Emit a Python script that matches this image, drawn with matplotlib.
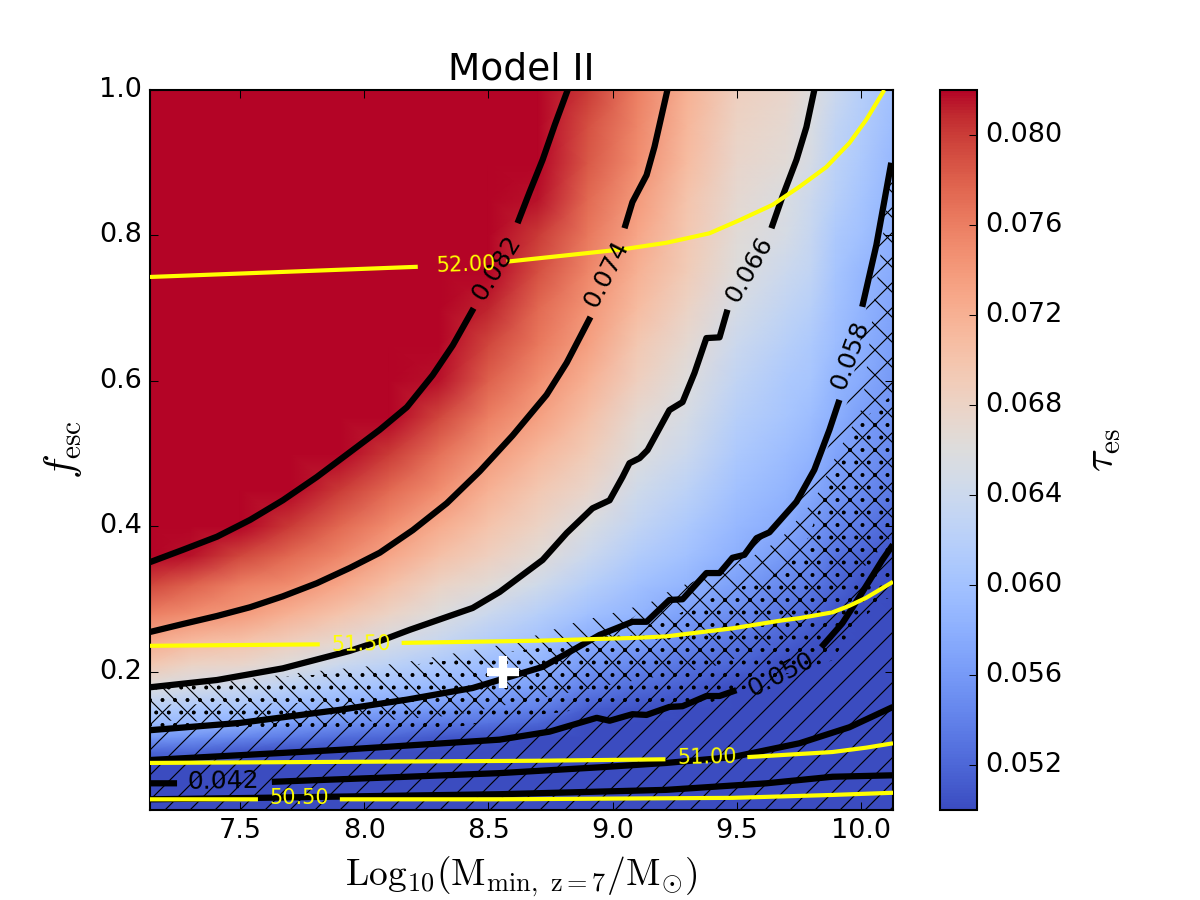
import numpy as np
import matplotlib
matplotlib.use("Agg")
import matplotlib.pyplot as plt

plt.style.use("classic")
plt.rcParams["hatch.linewidth"] = 0.55
plt.rcParams["hatch.color"] = "k"

# tau_es map, in units of 1e-3
log_m = [7.136, 7.3, 7.5, 7.7, 7.9, 8.1, 8.3, 8.5, 8.7, 8.9, 9.1, 9.3, 9.5, 9.7, 9.8, 9.9, 10.0, 10.13]
f_esc = [0.0103, 0.03, 0.05, 0.07, 0.09, 0.11, 0.13, 0.15, 0.18, 0.21, 0.24, 0.28, 0.32, 0.36,
         0.40, 0.45, 0.50, 0.55, 0.60, 0.65, 0.70, 0.75, 0.80, 0.85, 0.90, 0.95, 1.0]
tau_map = [
    [30, 30, 30, 30, 30, 30, 30, 30, 30, 30, 30, 30, 30, 30, 30, 30, 30, 30],
    [35, 35, 35, 35, 34, 34, 34, 33, 33, 32, 32, 31, 31, 30, 30, 30, 29, 29],
    [43, 43, 43, 42, 42, 41, 41, 40, 39, 38, 37, 36, 35, 34, 33, 32, 31, 30],
    [48, 47.5, 47, 46, 46, 45, 44.5, 44, 43, 42, 41, 40, 39, 37, 36, 35, 34, 33],
    [52, 52, 51, 50, 49.5, 49, 48, 47.5, 46.5, 45, 44, 43, 42.5, 41, 39.5, 38.5, 37, 36],
    [56, 55.5, 54.5, 53.5, 52.5, 52, 51, 50.5, 49.5, 48, 46.5, 45, 44, 43, 42.5, 41.5, 40, 38.5],
    [59.5, 59, 58, 56.5, 55.5, 54.5, 53.5, 53, 52, 50, 48.5, 47, 46, 45, 44, 43, 42, 40.5],
    [62, 61, 60.5, 59, 58, 57, 56, 55, 54, 51.5, 50.5, 49, 48, 46.5, 45.5, 44.5, 43, 42],
    [66, 65, 64, 62.5, 61, 60, 59, 57.5, 56.5, 54, 52.5, 51.5, 50, 48.5, 47.5, 46, 45, 43.5],
    [69.5, 68, 67.5, 66, 64, 62.5, 61, 59.5, 58.5, 56, 54.5, 53, 52, 50, 49.5, 48, 46.5, 45],
    [72.5, 71, 70, 68.5, 67, 65, 63.5, 61.5, 60, 57.5, 56.5, 54.5, 53, 51.5, 50.5, 49.5, 48, 46],
    [76, 75, 74, 72, 70, 68, 66, 64, 62, 60, 58.5, 56.5, 55, 53, 52, 50.5, 49, 47.5],
    [79.5, 78, 76, 75, 73, 70.5, 68, 66.5, 64.5, 62, 60, 58.5, 56.5, 54.5, 53.5, 52, 50.5, 49],
    [83, 81.5, 79.5, 77.5, 75.5, 73, 70.5, 68.5, 66.5, 64, 61.5, 60, 58, 56, 55, 53, 52, 50.5],
    [90, 85, 82.5, 80, 77.5, 75, 72.5, 70, 68, 65.5, 63, 61, 59, 57.5, 56, 54.5, 53.5, 52],
    [90, 90, 86, 82.5, 80, 77.5, 75, 72, 69.5, 67.5, 64.5, 62.5, 60, 58.5, 57.5, 56, 55, 53.5],
    [90, 90, 90, 86, 83, 80, 77, 74, 71.5, 69, 66, 64, 61, 59.5, 58.5, 57, 56, 54.5],
    [90, 90, 90, 90, 87, 83, 79.5, 76, 73.5, 70.5, 67, 65, 62, 60.5, 59.5, 58, 56.5, 55.5],
    [90, 90, 90, 90, 90, 86, 81.5, 78, 75, 72, 68.5, 66, 63, 61, 60.5, 58.5, 57.5, 56],
    [90, 90, 90, 90, 90, 88, 84, 79.5, 76.5, 73.5, 69.5, 67, 64, 62, 61, 59.5, 58, 56.5],
    [90, 90, 90, 90, 90, 90, 87, 81, 77.5, 74.5, 71, 68, 65, 63, 62, 60, 58.5, 57],
    [90, 90, 90, 90, 90, 90, 90, 82.5, 79, 75.5, 72, 69, 66, 64, 63, 60.5, 59, 57.5],
    [90, 90, 90, 90, 90, 90, 90, 84.5, 80, 76.5, 73, 69.5, 66.5, 65, 63.5, 61, 60, 58],
    [90, 90, 90, 90, 90, 90, 90, 87, 81.5, 77.5, 74, 70, 67, 65.5, 64, 62, 60.5, 58.5],
    [90, 90, 90, 90, 90, 90, 90, 88, 83, 78.5, 75, 71, 67.5, 66.5, 65, 62.5, 61, 59],
    [90, 90, 90, 90, 90, 90, 90, 90, 84, 79, 75.5, 71.5, 68, 67, 65.5, 63, 61.5, 59.5],
    [90, 90, 90, 90, 90, 90, 90, 90, 85, 80, 76, 72, 68.5, 67.5, 66, 64, 62, 60],
]

nan = float("nan")

# black contours, nan = gap for the label
c082_x = [7.136, 7.269, 7.406, 7.539, 7.671, 7.808, 7.941, 8.062, 8.171, 8.275, 8.356, 8.440, nan,
          8.617, 8.666, 8.718, 8.767, 8.819]
c082_y = [0.351, 0.368, 0.386, 0.409, 0.436, 0.468, 0.502, 0.533, 0.564, 0.608, 0.649, 0.700, nan,
          0.817, 0.860, 0.904, 0.952, 1.0]
c074_x = [7.136, 7.269, 7.406, 7.539, 7.671, 7.808, 7.941, 8.062, 8.195, 8.332, 8.465, 8.597, 8.734, 8.815, 8.911,
          nan, 9.048, 9.080, 9.137, 9.169, 9.221]
c074_y = [0.255, 0.266, 0.277, 0.289, 0.304, 0.322, 0.343, 0.364, 0.395, 0.432, 0.476, 0.525, 0.581, 0.625, 0.688,
          nan, 0.810, 0.846, 0.883, 0.922, 1.0]
c066_x = [7.136, 7.406, 7.671, 7.941, 8.074, 8.183, 8.436, 8.545, 8.718, 8.815, 8.919, 8.988, 9.040, 9.068, 9.109,
          9.141, 9.229, 9.282, 9.330, 9.378, 9.431, 9.463, nan, 9.640, 9.684, 9.741, 9.781, 9.813]
c066_y = [0.179, 0.189, 0.205, 0.229, 0.244, 0.258, 0.288, 0.310, 0.354, 0.391, 0.425, 0.436, 0.468, 0.487, 0.494,
          0.505, 0.560, 0.571, 0.611, 0.659, 0.660, 0.698, nan, 0.810, 0.853, 0.904, 0.949, 1.0]
c058_x = [7.136, 7.498, 7.901, 8.171, 8.436, 8.718, 8.855, 8.948, 9.080, 9.137, 9.229, 9.282, 9.378, 9.431,
          9.483, 9.531, 9.580, 9.632, 9.741, 9.813, 9.874, 9.914, nan, 10.006, 10.063, 10.123]
c058_y = [0.120, 0.130, 0.148, 0.162, 0.178, 0.207, 0.233, 0.251, 0.269, 0.269, 0.299, 0.300, 0.336, 0.336,
          0.357, 0.361, 0.384, 0.392, 0.434, 0.478, 0.533, 0.574, nan, 0.702, 0.787, 0.900]
c050_x = [7.136, 7.901, 8.545, 8.746, 8.936, 8.988, 9.080, 9.137, 9.229, 9.282, 9.378, 9.431, 9.499, nan,
          9.841, 9.926, 9.994, 10.087, 10.13]
c050_y = [0.079, 0.093, 0.107, 0.118, 0.137, 0.133, 0.142, 0.141, 0.152, 0.153, 0.167, 0.167, 0.175, nan,
          0.234, 0.267, 0.303, 0.354, 0.375]
c042_x = [7.136, 7.245, nan, 7.627, 8.171, 8.545, 8.948, 9.217, 9.483, 9.753, 9.954, 10.13]
c042_y = [0.047, 0.047, nan, 0.049, 0.056, 0.061, 0.069, 0.075, 0.083, 0.102, 0.124, 0.152]
c034_x = [7.136, 7.571, 8.142, 8.545, 9.217, 9.620, 9.886, 10.13]
c034_y = [0.025, 0.027, 0.030, 0.032, 0.038, 0.047, 0.056, 0.058]
black_lines = [(c082_x, c082_y), (c074_x, c074_y), (c066_x, c066_y), (c058_x, c058_y),
               (c050_x, c050_y), (c042_x, c042_y), (c034_x, c034_y)]

# yellow contours
y520_x = [7.136, 8.215, nan, 8.573, 9.040, 9.217, 9.390, 9.511, 9.644, 9.753, 9.861, 9.954, 10.022, 10.095]
y520_y = [0.743, 0.757, nan, 0.764, 0.781, 0.790, 0.803, 0.821, 0.842, 0.867, 0.894, 0.927, 0.959, 1.0]
y515_x = [7.136, 7.820, nan, 8.150, 8.698, 9.100, 9.217, 9.483, 9.684, 9.753, 9.886, 9.954, 10.022, 10.13]
y515_y = [0.236, 0.238, nan, 0.240, 0.243, 0.247, 0.249, 0.260, 0.271, 0.274, 0.282, 0.291, 0.302, 0.324]
y510_x = [7.136, 8.698, 9.213, nan, 9.543, 9.886, 10.022, 10.13]
y510_y = [0.075, 0.078, 0.080, nan, 0.083, 0.090, 0.096, 0.102]
y505_x = [7.136, 7.571, nan, 7.901, 8.545, 9.483, 9.886, 10.13]
y505_y = [0.025, 0.025, nan, 0.025, 0.025, 0.027, 0.031, 0.034]
yellow_lines = [(y520_x, y520_y), (y515_x, y515_y), (y510_x, y510_y), (y505_x, y505_y)]

black_labels = [("0.082", 8.533, 0.755, 58), ("0.074", 8.976, 0.747, 63), ("0.066", 9.551, 0.753, 60),
                ("0.058", 9.958, 0.636, 70), ("0.050", 9.680, 0.197, 27), ("0.042", 7.430, 0.049, 1)]
yellow_labels = [("52.00", 8.408, 0.759, 2), ("51.50", 7.985, 0.238, 1),
                 ("51.00", 9.382, 0.082, 1), ("50.50", 7.736, 0.027, 0)]

# hatched regions
back_top_x = [7.136, 7.337, 7.740, 8.142, 8.545, 8.698, 8.839, 9.00, 9.149, 9.217, 9.350, 9.491, 9.672, 9.813,
              9.906, 10.006, 10.055, 10.127]
back_top_y = [0.178, 0.182, 0.199, 0.212, 0.237, 0.251, 0.267, 0.281, 0.295, 0.309, 0.329, 0.344, 0.381, 0.436,
              0.501, 0.563, 0.711, 0.897]
back_bot_x = [7.136, 7.820, 8.352, 8.919, 9.402, 9.692, 9.886, 10.022, 10.127]
back_bot_y = [0.134, 0.127, 0.140, 0.178, 0.207, 0.244, 0.309, 0.347, 0.388]
fwd_top_x = [7.136, 7.700, 8.344, 8.666, 8.948, 9.217, 9.378, 9.620, 9.806, 9.882, 9.954, 10.006, 10.075, 10.127]
fwd_top_y = [0.155, 0.157, 0.168, 0.196, 0.244, 0.306, 0.333, 0.395, 0.464, 0.519, 0.577, 0.670, 0.794, 0.897]
fwd_bot_x = [7.136, 10.13]
fwd_bot_y = [0.0103, 0.0103]
dot_top_x = [7.136, 7.329, 7.929, 8.344, 8.706, 9.189, 9.382, 9.672, 9.765, 9.861, 9.962, 10.127]
dot_top_y = [0.182, 0.185, 0.199, 0.216, 0.233, 0.267, 0.299, 0.337, 0.365, 0.447, 0.533, 0.581]
dot_bot_x = [7.136, 8.251, 8.545, 8.948, 9.350, 9.620, 9.886, 9.954, 10.083, 10.127]
dot_bot_y = [0.118, 0.118, 0.134, 0.152, 0.152, 0.189, 0.216, 0.254, 0.299, 0.303]

best_fit = (8.557, 0.2)
cbar_ticks = [0.052, 0.056, 0.060, 0.064, 0.068, 0.072, 0.076, 0.080]

fig = plt.figure(figsize=(8, 6), dpi=150, facecolor="w")
ax = fig.add_axes([0.125, 0.1, 743 / 1200, 0.8])
cax = fig.add_axes([940 / 1200, 0.1, 37 / 1200, 0.8])

m = ax.pcolormesh(log_m, f_esc, np.array(tau_map) / 1000.0, cmap="coolwarm", vmin=0.05, vmax=0.082,
                  shading="gouraud", zorder=1)


def hatch_region(xt, yt, xb, yb, pattern):
    ax.fill(list(xt) + list(xb)[::-1], list(yt) + list(yb)[::-1], facecolor="none", edgecolor="k",
            linewidth=0, hatch=pattern, zorder=2)


hatch_region(fwd_top_x, fwd_top_y, fwd_bot_x, fwd_bot_y, "//")
hatch_region(back_top_x, back_top_y, back_bot_x, back_bot_y, "\\\\")
# twice, the dots come out too faint otherwise
hatch_region(dot_top_x, dot_top_y, dot_bot_x, dot_bot_y, "..")
hatch_region(dot_top_x, dot_top_y, dot_bot_x, dot_bot_y, "..")

for xs, ys in black_lines:
    ax.plot(xs, ys, color="k", lw=3, zorder=3, solid_capstyle="butt")
for xs, ys in yellow_lines:
    ax.plot(xs, ys, color="yellow", lw=2, zorder=4, solid_capstyle="butt")

for txt, x, y, rot in black_labels:
    ax.text(x, y, txt, color="k", fontsize=12, rotation=rot, ha="center", va="center", zorder=5)
for txt, x, y, rot in yellow_labels:
    ax.text(x, y, txt, color="yellow", fontsize=10, rotation=rot, ha="center", va="center", zorder=5)

ax.plot([best_fit[0]], [best_fit[1]], marker="+", color="w", ms=15.5, mew=4, zorder=6)

ax.set_xlim(7.136, 10.13)
ax.set_ylim(0.0103, 1.0)
ax.set_xticks([7.5, 8.0, 8.5, 9.0, 9.5, 10.0])
ax.set_yticks([0.2, 0.4, 0.6, 0.8, 1.0])
ax.tick_params(labelsize=13)
ax.set_title("Model II", fontsize=18)
ax.set_xlabel(r"$\mathrm{Log}_{10}(\mathrm{M}_{\mathrm{min,\ z=7}}/\mathrm{M}_{\odot})$", fontsize=18)
ax.set_ylabel(r"$f_{\mathrm{esc}}$", fontsize=20, labelpad=7)

cb = fig.colorbar(m, cax=cax, ticks=cbar_ticks)
cb.ax.set_yticklabels(["%.3f" % t for t in cbar_ticks])
cb.ax.tick_params(labelsize=13)
cb.set_label(r"$\tau_{\mathrm{es}}$", fontsize=20, labelpad=9)

fig.savefig("out.png", dpi=150, facecolor="w")
